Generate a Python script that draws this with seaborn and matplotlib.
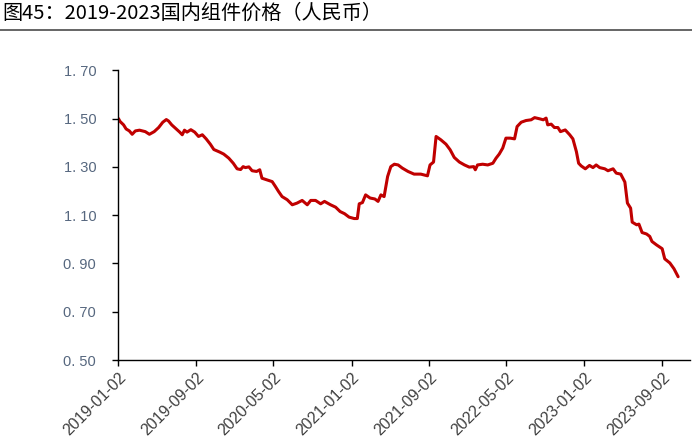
import matplotlib
matplotlib.use("Agg")
import matplotlib.pyplot as plt
import seaborn as sns
import pandas as pd

title = "图45：2019-2023国内组件价格（人民币）"

dates = [
    "2019-01-02", "2019-01-07", "2019-01-18", "2019-01-26", "2019-02-05", "2019-02-14",
    "2019-02-24", "2019-03-09", "2019-03-27", "2019-04-09", "2019-04-24", "2019-05-08",
    "2019-05-21", "2019-06-01", "2019-06-08", "2019-06-18", "2019-07-02", "2019-07-13",
    "2019-07-21", "2019-07-28", "2019-08-05", "2019-08-17", "2019-08-29", "2019-09-10",
    "2019-09-22", "2019-10-04", "2019-10-17", "2019-10-28", "2019-11-16", "2019-11-28",
    "2019-12-14", "2019-12-28", "2020-01-09", "2020-01-20", "2020-01-28", "2020-02-04",
    "2020-02-15", "2020-02-25", "2020-03-10", "2020-03-20", "2020-03-27", "2020-04-12",
    "2020-04-28", "2020-05-08", "2020-05-18", "2020-05-29", "2020-06-14", "2020-06-30",
    "2020-07-15", "2020-07-31", "2020-08-16", "2020-08-27", "2020-09-11", "2020-09-27",
    "2020-10-09", "2020-10-28", "2020-11-13", "2020-11-27", "2020-12-11", "2020-12-25",
    "2021-01-10", "2021-01-20", "2021-01-26", "2021-02-05", "2021-02-15", "2021-03-01",
    "2021-03-16", "2021-03-26", "2021-04-04", "2021-04-14", "2021-04-25", "2021-05-05",
    "2021-05-16", "2021-05-28", "2021-06-10", "2021-06-28", "2021-07-17", "2021-08-07",
    "2021-08-28", "2021-09-05", "2021-09-16", "2021-09-24", "2021-10-09", "2021-10-25",
    "2021-11-07", "2021-11-20", "2021-12-06", "2021-12-22", "2022-01-06", "2022-01-20",
    "2022-01-25", "2022-02-01", "2022-02-17", "2022-03-05", "2022-03-21", "2022-03-31",
    "2022-04-10", "2022-04-21", "2022-05-01", "2022-05-15", "2022-05-28", "2022-06-05",
    "2022-06-18", "2022-07-03", "2022-07-19", "2022-07-30", "2022-08-15", "2022-08-26",
    "2022-09-04", "2022-09-09", "2022-09-20", "2022-09-30", "2022-10-11", "2022-10-19",
    "2022-11-03", "2022-11-17", "2022-11-27", "2022-12-08", "2022-12-15", "2022-12-23",
    "2023-01-05", "2023-01-18", "2023-01-29", "2023-02-08", "2023-02-19", "2023-03-07",
    "2023-03-17", "2023-04-02", "2023-04-12", "2023-04-26", "2023-05-09", "2023-05-17",
    "2023-05-27", "2023-06-01", "2023-06-15", "2023-06-22", "2023-07-02", "2023-07-16",
    "2023-07-26", "2023-08-02", "2023-08-16", "2023-09-03", "2023-09-11", "2023-09-27",
    "2023-10-10", "2023-10-23",
]

prices = [
    1.500, 1.488, 1.474, 1.457, 1.449, 1.435,
    1.449, 1.452, 1.446, 1.435, 1.446, 1.463,
    1.485, 1.496, 1.490, 1.474, 1.457, 1.444,
    1.433, 1.452, 1.444, 1.454, 1.444, 1.426,
    1.433, 1.416, 1.394, 1.372, 1.361, 1.353,
    1.336, 1.315, 1.292, 1.289, 1.301, 1.297,
    1.300, 1.284, 1.281, 1.288, 1.253, 1.246,
    1.239, 1.219, 1.198, 1.177, 1.164, 1.143,
    1.150, 1.161, 1.143, 1.161, 1.161, 1.147,
    1.157, 1.143, 1.133, 1.115, 1.106, 1.092,
    1.086, 1.086, 1.147, 1.152, 1.184, 1.171,
    1.167, 1.157, 1.184, 1.177, 1.260, 1.301,
    1.311, 1.308, 1.295, 1.281, 1.270, 1.270,
    1.263, 1.308, 1.320, 1.426, 1.412, 1.394,
    1.371, 1.339, 1.320, 1.308, 1.299, 1.301,
    1.288, 1.308, 1.311, 1.308, 1.315, 1.336,
    1.353, 1.378, 1.419, 1.419, 1.416, 1.467,
    1.485, 1.492, 1.495, 1.504, 1.499, 1.495,
    1.502, 1.474, 1.477, 1.463, 1.463, 1.446,
    1.453, 1.433, 1.416, 1.363, 1.315, 1.304,
    1.292, 1.306, 1.297, 1.308, 1.297, 1.292,
    1.284, 1.292, 1.274, 1.270, 1.237, 1.150,
    1.129, 1.071, 1.060, 1.063, 1.028, 1.022,
    1.012, 0.991, 0.977, 0.961, 0.919, 0.902,
    0.878, 0.845,
]

y_ticks = [0.50, 0.70, 0.90, 1.10, 1.30, 1.50, 1.70]
y_tick_labels = ["0. 50", "0. 70", "0. 90", "1. 10", "1. 30", "1. 50", "1. 70"]
x_tick_labels = ["2019-01-02", "2019-09-02", "2020-05-02", "2021-01-02",
                 "2021-09-02", "2022-05-02", "2023-01-02", "2023-09-02"]
x_start = "2019-01-02"
x_end = "2023-11-29"

sns.set_style("white")
plt.rcParams["font.family"] = ["Liberation Sans", "Noto Sans CJK SC", "DejaVu Sans"]

df = pd.DataFrame({"date": pd.to_datetime(dates), "price": prices})

fig = plt.figure(figsize=(6.92, 4.45), dpi=100)
ax = fig.add_axes([0.1712, 0.191, 0.8258, 0.651])

sns.lineplot(data=df, x="date", y="price", ax=ax, color="#C00000", linewidth=2.2)

ax.set_ylim(0.50, 1.70)
ax.set_yticks(y_ticks)
ax.set_yticklabels(y_tick_labels, color="#56677f", fontsize=10.5)

xt = pd.to_datetime(x_tick_labels)
ax.set_xlim(pd.Timestamp(x_start), pd.Timestamp(x_end))
ax.set_xticks(xt)
ax.set_xticklabels(x_tick_labels, rotation=45, ha="right", rotation_mode="anchor",
                   color="#404040", fontsize=11.5)

ax.set_xlabel("")
ax.set_ylabel("")
for s in ["top", "right"]:
    ax.spines[s].set_visible(False)
for s in ["left", "bottom"]:
    ax.spines[s].set_color("black")
    ax.spines[s].set_linewidth(1.0)
ax.tick_params(axis="y", direction="out", length=4, width=1, color="black", pad=12, left=True)
ax.tick_params(axis="x", direction="out", length=4, width=1, color="black", pad=3, bottom=True)
ax.grid(False)

fig.text(0.004, 0.970, title, fontsize=14.5, family=["Noto Sans CJK SC", "DejaVu Sans"],
         weight="medium", color="black", va="center", ha="left")
fig.add_artist(plt.Line2D([0, 1], [1 - 30 / 445, 1 - 30 / 445], transform=fig.transFigure,
                          color="#595959", linewidth=1.3))

fig.savefig("out.png", dpi=100)
